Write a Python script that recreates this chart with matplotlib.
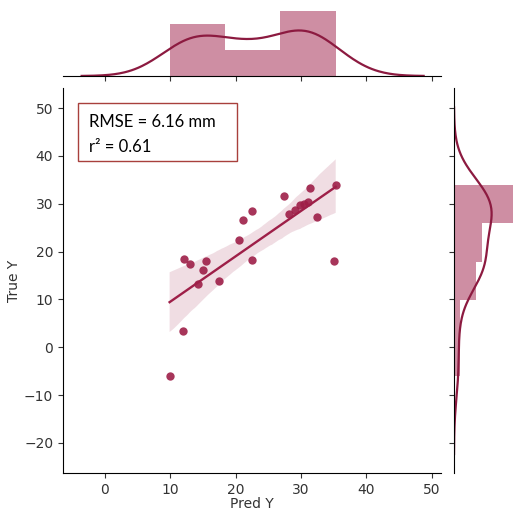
import numpy as np
import matplotlib
matplotlib.use('Agg')
import matplotlib.pyplot as plt
from matplotlib.patches import Rectangle
import seaborn as sns

# predicted vs true values
pred_y = [9.9, 11.9, 12.1, 13.0, 14.3, 15.0, 15.4, 17.5, 20.5, 21.2, 22.5,
          22.5, 27.4, 28.2, 29.0, 29.8, 30.5, 31.0, 31.3, 32.4, 35.0, 35.3]
true_y = [-6.1, 3.3, 18.4, 17.5, 13.3, 16.1, 18.0, 13.9, 22.4, 26.6, 28.4,
          18.3, 31.7, 27.8, 28.7, 29.7, 30.0, 30.3, 33.2, 27.2, 18.0, 33.9]
x_ticks = [0, 10, 20, 30, 40, 50]
y_ticks = [-20, -10, 0, 10, 20, 30, 40, 50]
rmse_label = 'RMSE = 6.16 mm'
r2_label = 'r\u00b2 = 0.61'

col = '#9e1f48'
W, H = 513, 511

fig = plt.figure(figsize=(W / 100, H / 100), dpi=100)

def px_axes(left, top, right, bottom):
    return fig.add_axes([left / W, 1 - bottom / H, (right - left) / W, (bottom - top) / H])

ax = px_axes(63, 88, 441, 473)
ax_top = px_axes(63, -1, 441, 76)
ax_right = px_axes(454, 88, 531, 473)

# joint plot
sns.regplot(x=np.array(pred_y), y=np.array(true_y), ax=ax, color=col, ci=95, seed=3,
            scatter_kws={'s': 36, 'alpha': 0.9, 'linewidths': 0},
            line_kws={'lw': 1.7})
ax.set_xlim(-6.4, 51.4)
ax.set_ylim(-26.3, 54.2)
ax.set_xticks(x_ticks)
ax.set_yticks(y_ticks)
ax.set_xlabel('Pred Y', fontsize=10, color='#333333', labelpad=0)
ax.set_ylabel('True Y', fontsize=10, color='#333333', labelpad=2)
ax.tick_params(labelsize=10, colors='#333333', length=3.5)
for s in ['top', 'right']:
    ax.spines[s].set_visible(False)

# marginal histograms + kde
ax_top.hist(pred_y, bins=3, density=True, color=col, alpha=0.5, lw=0)
sns.kdeplot(x=pred_y, ax=ax_top, color='#8c1a40', lw=1.6)
ax_top.set_xlim(ax.get_xlim())
ax_top.set_ylim(0, 0.064)
ax_top.set_xticks(x_ticks)
ax_top.set_xticklabels([])
ax_top.set_yticks([])
ax_top.set_ylabel('')
for s in ['top', 'right', 'left']:
    ax_top.spines[s].set_visible(False)
ax_top.tick_params(length=3.5, colors='#333333')

ax_right.hist(true_y, bins=5, density=True, color=col, alpha=0.5, lw=0,
              orientation='horizontal')
sns.kdeplot(y=true_y, ax=ax_right, color='#8c1a40', lw=1.6)
ax_right.set_ylim(ax.get_ylim())
ax_right.set_xlim(0, 0.078)
ax_right.set_yticks(y_ticks)
ax_right.set_yticklabels([])
ax_right.set_xticks([])
ax_right.set_xlabel('')
for s in ['top', 'right', 'bottom']:
    ax_right.spines[s].set_visible(False)
ax_right.tick_params(length=3.5, colors='#333333')

# annotation box
ax.add_patch(Rectangle((0.0397, 0.810), 0.4206, 0.1506, transform=ax.transAxes,
                       fill=False, edgecolor='#a8403c', lw=1.0, zorder=5))
ax.text(0.069, 0.899, rmse_label, transform=ax.transAxes, family='Lato',
        fontsize=12, va='baseline', ha='left', color='black')
ax.text(0.069, 0.834, r2_label, transform=ax.transAxes, family='Lato',
        fontsize=12, va='baseline', ha='left', color='black')

fig.savefig('out.png', dpi=100)
